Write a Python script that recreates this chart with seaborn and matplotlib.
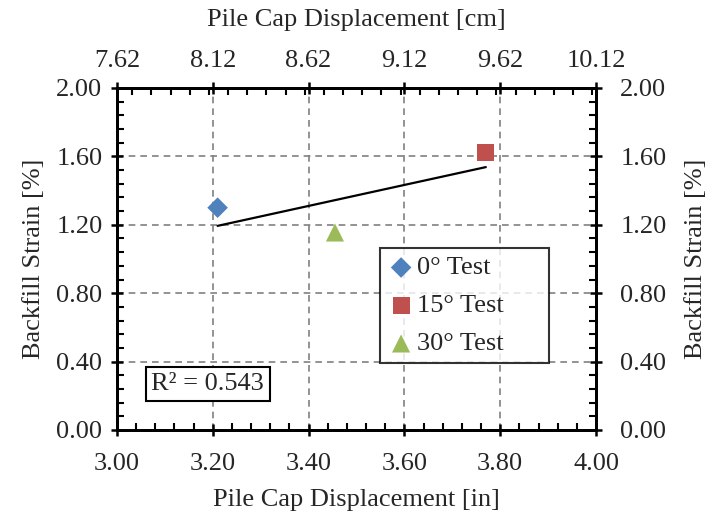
import pandas as pd
import numpy as np
import matplotlib
matplotlib.use("Agg")
import matplotlib.pyplot as plt
import seaborn as sns
from matplotlib.ticker import MultipleLocator, FormatStrFormatter

# data
tests = ["0° Test", "15° Test", "30° Test"]
disp_in = [3.21, 3.77, 3.455]
strain_pc = [1.30, 1.62, 1.155]
top_ticks = [7.62, 8.12, 8.62, 9.12, 9.62, 10.12]

df = pd.DataFrame({"test": tests, "disp": disp_in, "strain": strain_pc})

sns.set_theme(style="white")
plt.rcParams["font.family"] = ["Liberation Serif", "DejaVu Serif"]

fig = plt.figure(figsize=(7.07, 5.16), dpi=100)
ax = fig.add_axes([0.1655, 0.1667, 0.6775, 0.6628])

palette = {"0° Test": "#4F81BD", "15° Test": "#C0504D", "30° Test": "#9BBB59"}
markers = {"0° Test": "D", "15° Test": "s", "30° Test": "^"}
sizes = {"0° Test": 110, "15° Test": 150, "30° Test": 170}

# trendline (linear fit)
sns.regplot(data=df, x="disp", y="strain", ax=ax, scatter=False, ci=None,
            truncate=True, line_kws=dict(color="black", lw=1.6, zorder=3))

for t in tests:
    sns.scatterplot(data=df[df.test == t], x="disp", y="strain", ax=ax,
                    color=palette[t], marker=markers[t], s=sizes[t],
                    edgecolor="none", label=t, zorder=4)

ax.set_xlim(3.0, 4.0)
ax.set_ylim(0.0, 2.0)
ax.xaxis.set_major_locator(MultipleLocator(0.2))
ax.xaxis.set_minor_locator(MultipleLocator(0.04))
ax.yaxis.set_major_locator(MultipleLocator(0.4))
ax.yaxis.set_minor_locator(MultipleLocator(0.08))
ax.xaxis.set_major_formatter(FormatStrFormatter("%.2f"))
ax.yaxis.set_major_formatter(FormatStrFormatter("%.2f"))
ax.grid(True, which="major", linestyle=(0, (4, 3)), color="#808080", lw=1.2)
ax.set_axisbelow(True)

fs = 19
ax.set_xlabel("Pile Cap Displacement [in]", fontsize=fs, labelpad=10)
ax.set_ylabel("Backfill Strain [%]", fontsize=fs, labelpad=8)
ax.tick_params(axis="x", which="major", pad=12)
ax.tick_params(axis="y", which="major", pad=6)
ax.tick_params(axis="both", which="major", labelsize=fs, direction="inout",
               length=9, width=1.8, color="black")
ax.tick_params(axis="both", which="minor", direction="in", length=5,
               width=1.5, color="black")
for sp in ax.spines.values():
    sp.set_color("black")
    sp.set_linewidth(2)

# right axis
axr = ax.twinx()
axr.set_ylim(0.0, 2.0)
axr.yaxis.set_major_locator(MultipleLocator(0.4))
axr.yaxis.set_minor_locator(MultipleLocator(0.08))
axr.yaxis.set_major_formatter(FormatStrFormatter("%.2f"))
axr.set_ylabel("Backfill Strain [%]", fontsize=fs, labelpad=13)
axr.tick_params(axis="y", which="major", labelsize=fs, direction="inout",
                length=9, width=1.8, color="black", pad=13)
axr.tick_params(axis="y", which="minor", direction="in", length=5,
                width=1.5, color="black")

# top axis in cm
axt = ax.twiny()
axt.set_xlim(top_ticks[0], top_ticks[-1])
axt.set_xticks(top_ticks)
axt.xaxis.set_minor_locator(MultipleLocator(0.1))
axt.set_xticklabels([f"{v:.2f}" for v in top_ticks])
axt.set_xlabel("Pile Cap Displacement [cm]", fontsize=fs, labelpad=17)
axt.tick_params(axis="x", which="major", labelsize=fs, direction="inout",
                length=9, width=1.8, color="black", pad=7)
axt.tick_params(axis="x", which="minor", direction="in", length=5,
                width=1.5, color="black")
for a in (axr, axt):
    for sp in a.spines.values():
        sp.set_color("black")
        sp.set_linewidth(2)
    a.grid(False)

leg = ax.legend(loc="upper left", bbox_to_anchor=(0.549, 0.193, 0.353, 0.339),
                mode="expand", fontsize=fs,
                frameon=True, fancybox=False, edgecolor="black",
                handletextpad=0.1, handlelength=1.0, labelspacing=0.55,
                borderpad=0.3, borderaxespad=0)
leg.get_frame().set_linewidth(1.5)

ax.text(0.072, 0.135, "R² = 0.543", transform=ax.transAxes, fontsize=fs,
        ha="left", va="center",
        bbox=dict(boxstyle="square,pad=0.22", fc="white", ec="black", lw=1.5))

fig.savefig("out.png", dpi=100)
